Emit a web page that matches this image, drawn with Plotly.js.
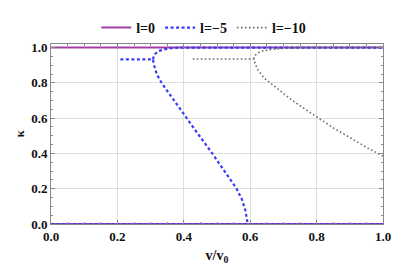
<!DOCTYPE html>
<html>
<head>
<meta charset="utf-8">
<script src="https://cdn.plot.ly/plotly-3.0.1.min.js"></script>
<style>html,body{margin:0;padding:0;background:#fff;}#chart{width:403px;height:265px;}</style>
</head>
<body>
<div id="chart"></div>
<script>
// l = 0
const l0X = [0, 1, null, 0, 1];
const l0Y = [1, 1, null, 0, 0];
// l = -5
const l5X = [0, 1, null,
  0.209, 0.307, 0.311, 0.319, 0.334, 0.359, 0.389, 0.40, 0.439, 0.484, 0.52, 0.559, 0.575, 0.585, 0.590, 0.592, null,
  0.307, 0.311, 0.324, 0.344, 0.369, 0.40, 1.0];
const l5Y = [0, 0, null,
  0.933, 0.933, 0.897, 0.847, 0.797, 0.73, 0.655, 0.62, 0.52, 0.405, 0.31, 0.2, 0.14, 0.08, 0.03, 0, null,
  0.933, 0.96, 0.98, 0.991, 0.998, 1.0, 1.0];
// l = -10
const l10X = [0.427, 0.611, 0.614, 0.621, 0.634, 0.649, 0.66, 0.689, 0.72, 0.754, 0.805, 0.85, 0.9, 0.95, 1.0, null,
  0.611, 0.614, 0.629, 0.659, 0.699, 0.75, 1.0];
const l10Y = [0.935, 0.935, 0.913, 0.88, 0.845, 0.815, 0.80, 0.755, 0.71, 0.665, 0.6, 0.545, 0.49, 0.435, 0.385, null,
  0.935, 0.955, 0.977, 0.988, 0.995, 1.0, 1.0];
const names = ['l=0', 'l=\u22125', 'l=\u221210'];
const xTicks = [0, 0.2, 0.4, 0.6, 0.8, 1.0];
const xTickText = ['0.0', '0.2', '0.4', '0.6', '0.8', '1.0'];
const yTicks = [0, 0.2, 0.4, 0.6, 0.8, 1.0];
const yTickText = ['0.0', '0.2', '0.4', '0.6', '0.8', '1.0'];

const serif = '"Liberation Serif", "Times New Roman", serif';

const traces = [
  {x: l0X, y: l0Y, name: names[0], mode: 'lines', line: {color: '#a23ea6', width: 2}},
  {x: l5X, y: l5Y, name: names[1], mode: 'lines', line: {color: '#3a3cf5', width: 2.2, dash: '3px,2.5px'}},
  {x: l10X, y: l10Y, name: names[2], mode: 'lines', line: {color: '#6e6e6e', width: 1.6, dash: '1.6px,2.4px'}}
];

const axisCommon = {
  showline: true, linecolor: '#8a8a8a', linewidth: 1, mirror: 'ticks',
  ticks: 'inside', ticklen: 4, tickcolor: '#8a8a8a', tickwidth: 1,
  showgrid: true, gridcolor: '#dedede', gridwidth: 1, zeroline: false,
  tickfont: {family: serif, size: 13, color: '#111', weight: 'bold'},
  minor: {ticks: 'inside', ticklen: 2, tickcolor: '#8a8a8a', dtick: 0.05, showgrid: false}
};

const layout = {
  width: 403, height: 265,
  margin: {l: 51, r: 20, t: 20, b: 41},
  paper_bgcolor: '#fff', plot_bgcolor: '#fff',
  font: {family: serif, size: 13, color: '#111', weight: 'bold'},
  showlegend: true,
  legend: {orientation: 'h', x: 0.46, xanchor: 'center', y: 1.0, yanchor: 'bottom',
    font: {family: serif, size: 14, color: '#111', weight: 'bold'},
    itemwidth: 30, bgcolor: 'rgba(0,0,0,0)', tracegroupgap: 0},
  xaxis: Object.assign({}, axisCommon, {range: [0, 1], tickvals: xTicks, ticktext: xTickText,
    title: {text: 'v/v<sub>0</sub>', standoff: 10, font: {family: serif, size: 14, color: '#111', weight: 'bold'}}}),
  yaxis: Object.assign({}, axisCommon, {range: [0, 1.02], tickvals: yTicks, ticktext: yTickText,
    title: {text: '\u03ba', standoff: 3, font: {family: serif, size: 13, color: '#111', weight: 'bold'}}})
};

Plotly.newPlot('chart', traces, layout, {staticPlot: true, displayModeBar: false});
</script>
</body>
</html>
